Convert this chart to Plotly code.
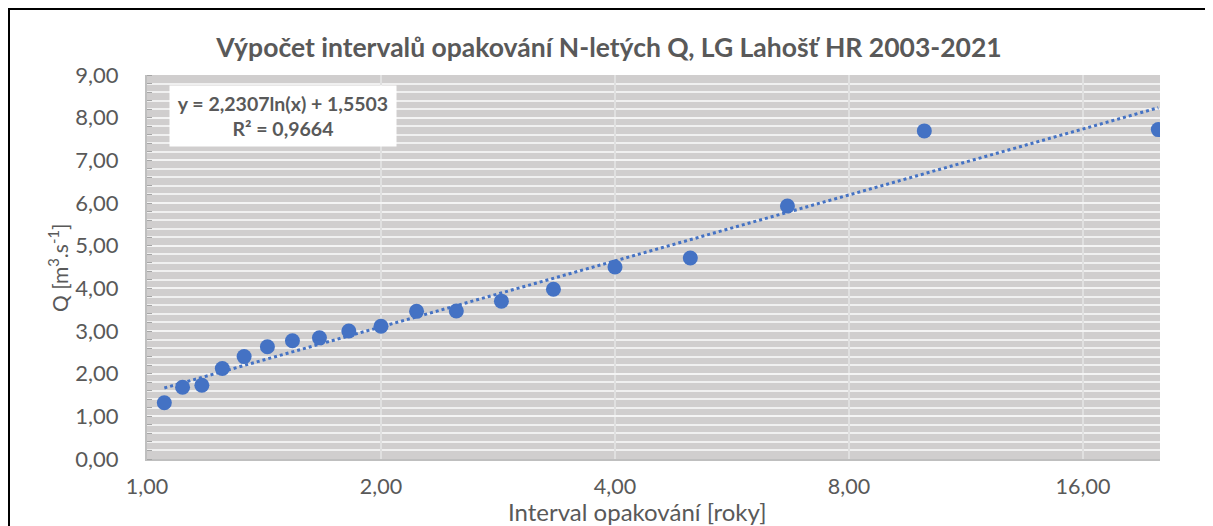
import numpy as np
import plotly.graph_objects as go

# Data: return interval N = 20/m (years), discharge Q [m3/s]
rank = list(range(1, 20))
interval = [20.0 / m for m in rank]
discharge = [7.72, 7.69, 5.93, 4.71, 4.50, 3.98, 3.70, 3.47, 3.46, 3.11,
             3.00, 2.84, 2.77, 2.63, 2.40, 2.12, 1.73, 1.68, 1.32]

# Trendline coefficients shown in the chart
coef_a = 2.2307
coef_b = 1.5503
r2_text = "0,9664"

x_ticks = [1, 2, 4, 8, 16]
y_ticks = [0, 1, 2, 3, 4, 5, 6, 7, 8, 9]

blue = "#4472C4"
grey_text = "#595959"
font_family = "Lato, Carlito, 'Open Sans', sans-serif"

# page body has an 8px margin -> compensate
OFF = 8
PL, PR, PT, PB = 147, 1160, 75, 459  # plot area in screenshot pixels
W, H = 1213, 526


def px(sx):
    return (sx - PL) / (PR - PL)


def py(sy):
    return (PB - sy) / (PB - PT)


x_trend = np.geomspace(min(interval), max(interval), 200)
y_trend = coef_a * np.log(x_trend) + coef_b

fig = go.Figure()
fig.add_trace(go.Scatter(x=x_trend, y=y_trend, mode="lines",
                         line=dict(color=blue, width=3, dash="dot"),
                         hoverinfo="skip", showlegend=False))
fig.add_trace(go.Scatter(x=interval, y=discharge, mode="markers",
                         marker=dict(color=blue, size=15, line=dict(width=0)),
                         showlegend=False))

fig.update_layout(
    width=W, height=H,
    margin=dict(l=PL - OFF, r=W - (PR - OFF), t=PT - OFF, b=H - (PB - OFF)),
    paper_bgcolor="white",
    plot_bgcolor="#D0CECE",
    separators=", ",
    font=dict(family=font_family, color=grey_text),
    title=dict(text="<b>Výpočet intervalů opakování N-letých Q, LG Lahošť HR 2003-2021</b>",
               x=(609 - OFF) / W, xref="container", xanchor="center",
               y=1 - (48 - OFF) / H, yref="container", yanchor="middle",
               font=dict(size=26.5, color=grey_text)),
    showlegend=False,
)

fig.update_xaxes(
    type="log", range=[0, np.log10(20.1)],
    tickvals=x_ticks, tickformat=".2f",
    tickfont=dict(size=21.5, color=grey_text),
    showgrid=True, gridcolor="#E0E0E0", gridwidth=1.5,
    showline=True, linecolor="#BFBFBF", linewidth=2,
    ticks="", zeroline=False, ticklabelstandoff=7,
)
fig.update_yaxes(
    range=[0, 9], tickvals=y_ticks, tickformat=".2f",
    tickfont=dict(size=22, color=grey_text),
    showgrid=True, gridcolor="#F4F4F4", gridwidth=2,
    minor=dict(dtick=0.2, showgrid=True, gridcolor="#F0F0F0", gridwidth=2,
               ticks="inside", ticklen=5, tickcolor="#A6A6A6", tickwidth=1),
    showline=True, linecolor="#BFBFBF", linewidth=2,
    ticks="", zeroline=False, ticklabelstandoff=22,
)

# Axis titles
fig.add_annotation(xref="paper", yref="paper", x=px(637), y=py(511),
                   xanchor="center", yanchor="middle", showarrow=False,
                   text="Interval opakování [roky]",
                   font=dict(size=24, color=grey_text, family=font_family))
fig.add_annotation(xref="paper", yref="paper", x=px(58), y=py(268),
                   xanchor="center", yanchor="middle", showarrow=False, textangle=-90,
                   text="Q [m<sup>3</sup>.s<sup>-1</sup>]",
                   font=dict(size=21, color=grey_text, family=font_family))

# Equation box
fig.add_annotation(
    xref="paper", yref="paper", x=px(283), y=py(116),
    xanchor="center", yanchor="middle",
    text="<b>y = 2,2307ln(x) + 1,5503<br>R² = " + r2_text + "</b>",
    showarrow=False, align="center", bgcolor="white",
    font=dict(size=19.5, color=grey_text, family=font_family),
    borderpad=4, width=218, height=52,
)

# Outer chart border
fig.add_shape(type="rect", xref="paper", yref="paper",
              x0=px(9), x1=px(1260), y0=py(560), y1=py(9),
              line=dict(color="black", width=2), fillcolor="rgba(0,0,0,0)", layer="above")

fig.write_html("out.html")
